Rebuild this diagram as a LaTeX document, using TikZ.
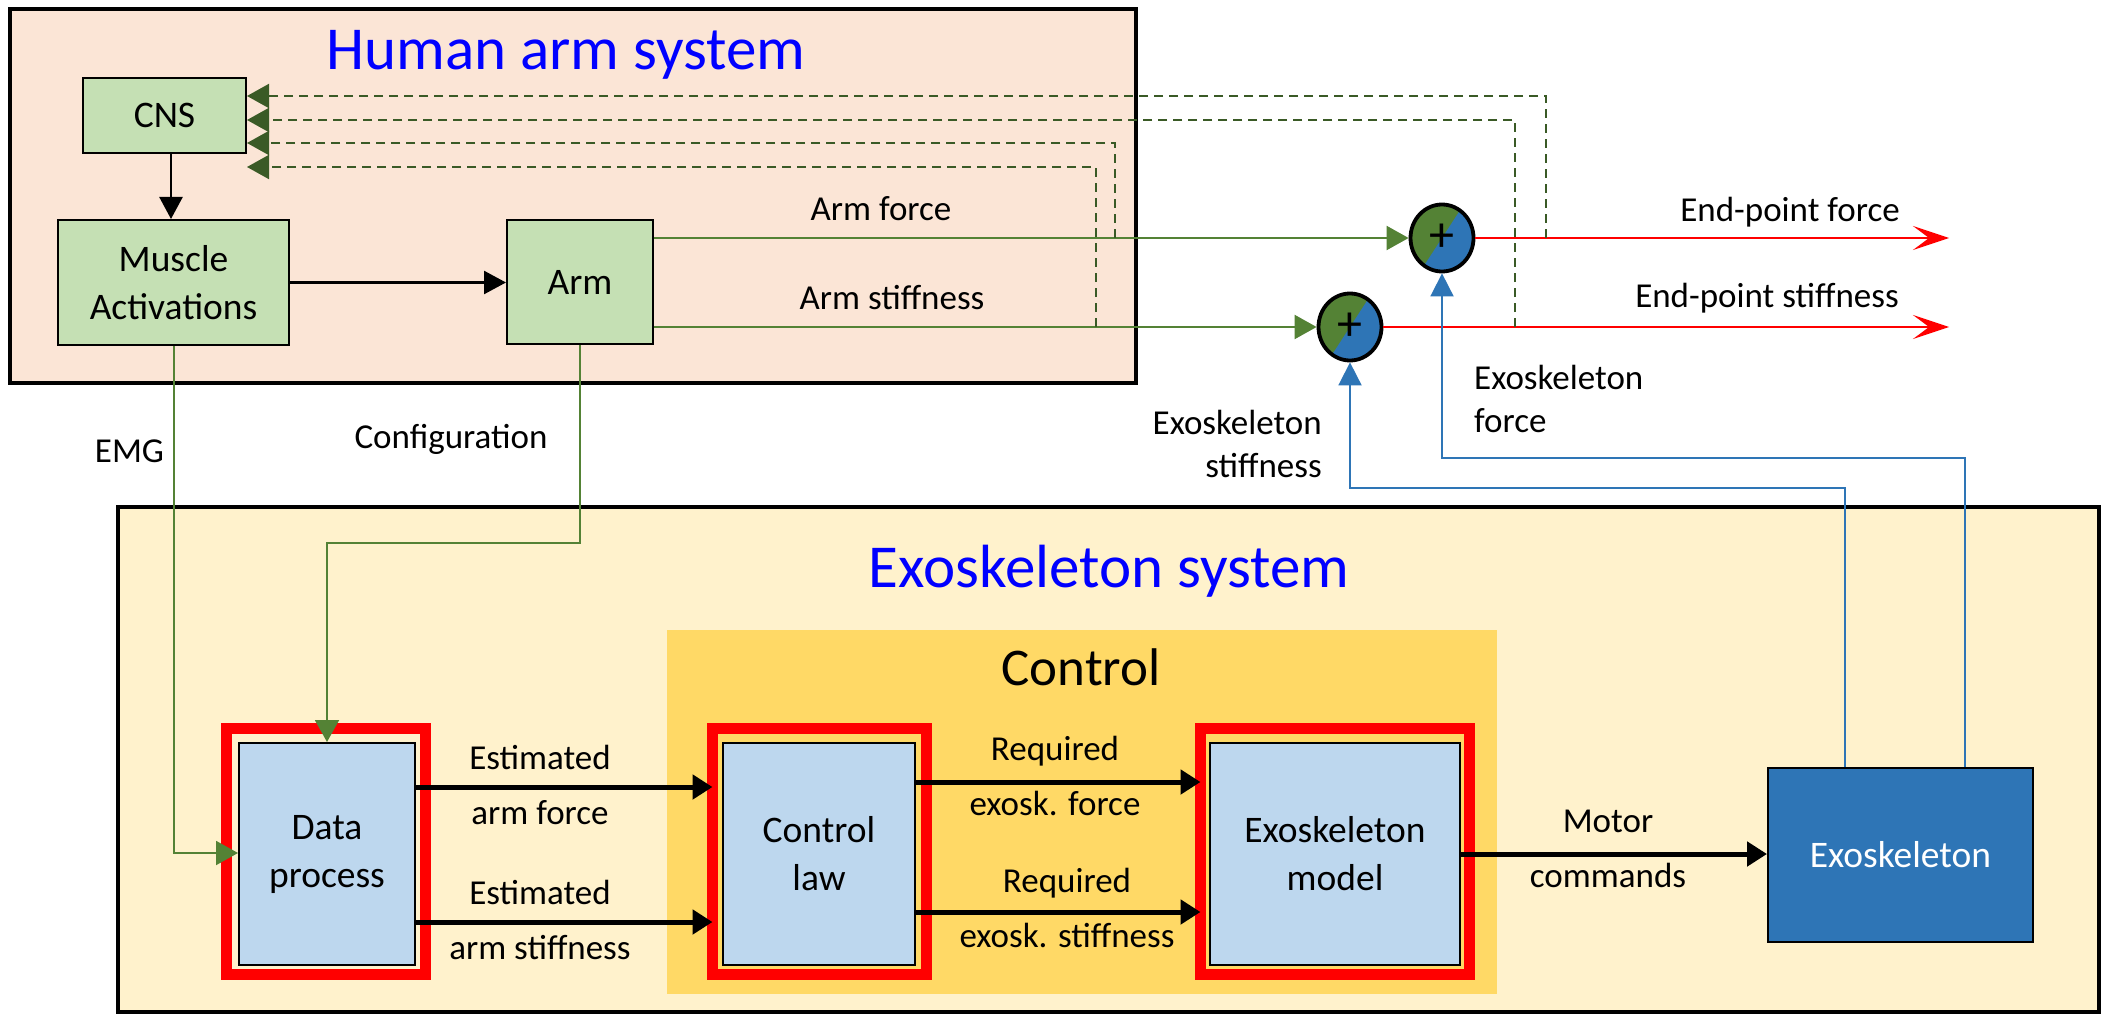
\documentclass[tikz,border=0pt]{standalone}
\usepackage{fontspec}
\setmainfont{Carlito}
\usetikzlibrary{arrows.meta,calc,shapes.geometric}
\definecolor{peach}{HTML}{FBE5D6}
\definecolor{cream}{HTML}{FFF2CC}
\definecolor{gold}{HTML}{FFD966}
\definecolor{boxgreen}{HTML}{C5E0B4}
\definecolor{boxblue}{HTML}{BDD7EE}
\definecolor{exoblue}{HTML}{2E75B6}
\definecolor{lgreen}{HTML}{548235}
\definecolor{dgreen}{HTML}{3A5A26}
\definecolor{titleblue}{HTML}{0000FF}
\newcommand\bxfont{\fontsize{37.5}{48}\selectfont}
\newcommand\lbfont{\fontsize{35}{55}\selectfont}
\newcommand\lbsfont{\fontsize{35}{43}\selectfont}
\newcommand\ttlfont{\fontsize{61}{70}\selectfont}
\begin{document}
\begin{tikzpicture}[x=1pt,y=-1pt,
  panel/.style={draw=black,line width=3.5pt,inner sep=0pt},
  box/.style={draw=black,line width=2pt,inner sep=0pt,align=center,font=\bxfont},
  gbox/.style={box,fill=boxgreen},
  bbox/.style={box,fill=boxblue,minimum height=222pt},
  rframe/.style={draw=red,line width=11pt,inner sep=0pt,outer sep=0pt,minimum height=246pt},
  sumnode/.style={ellipse,minimum width=63pt,minimum height=67pt,inner sep=0pt,draw=black,line width=3.8pt,
    font=\fontsize{50}{50}\selectfont,
    path picture={
      \fill[lgreen] (path picture bounding box.south west) rectangle (path picture bounding box.north east);
      \fill[exoblue] ($(path picture bounding box.center)+(57:60pt)$) -- ($(path picture bounding box.center)+(237:60pt)$)
        -- ($(path picture bounding box.center)+(237:60pt)+(-33:80pt)$) -- ($(path picture bounding box.center)+(57:60pt)+(-33:80pt)$) -- cycle;
    }},
  lbl/.style={inner sep=0pt,font=\lbfont,align=center},
  ttl/.style={inner sep=0pt,font=\ttlfont,text=titleblue,anchor=base},
  gline/.style={draw=lgreen,line width=2pt,-{Triangle[length=22pt,width=24pt]}},
  fbline/.style={draw=dgreen,line width=2pt,dash pattern=on 9pt off 6pt,-{Triangle[length=22pt,width=24pt]}},
  blk/.style={draw=black,line width=2.5pt,-{Triangle[length=22pt,width=23pt]}},
  thk/.style={draw=black,line width=5pt,-{Triangle[length=20pt,width=24pt]}},
  rline/.style={draw=red,line width=2.5pt,-{Stealth[length=36pt,width=24pt,inset=16pt]}},
  bline/.style={draw=exoblue,line width=1.8pt,-{Triangle[length=23pt,width=23pt]}}
]
\useasboundingbox (0,0) rectangle (2111,1016);
\fill[white] (0,0) rectangle (2111,1016);

% panels
\node[panel,fill=peach,minimum width=1126pt,minimum height=374pt] (human) at (573,196) {};
\node[panel,fill=cream,minimum width=1981pt,minimum height=505pt] (exosys) at (1108.5,759.5) {};
\node[fill=gold,inner sep=0pt,minimum width=830pt,minimum height=364pt] (control) at (1082,812) {};

% titles
\node[ttl] (humantitle) at (566,70) {Human arm system};
\node[ttl] (exotitle) at (1109,587) {Exoskeleton system};
\node[inner sep=0pt,font=\fontsize{53}{60}\selectfont,anchor=base] (ctrltitle) at (1081,685) {Control};

% human arm blocks
\node[gbox,minimum width=163pt,minimum height=75pt] (cns) at (164.5,115.5) {CNS};
\node[gbox,minimum width=231pt,minimum height=125pt] (muscle) at (173.5,282.5) {Muscle\\Activations};
\node[gbox,minimum width=146pt,minimum height=124pt] (arm) at (580,282) {Arm};

% exoskeleton blocks
\node[rframe,minimum width=199pt] (dpf) at (326,851.5) {};
\node[rframe,minimum width=214pt] (clf) at (819.5,851.5) {};
\node[rframe,minimum width=269pt] (emf) at (1335,851.5) {};
\node[bbox,minimum width=176pt] (dp) at (327,854) {Data\\process};
\node[bbox,minimum width=192pt] (cl) at (819,854) {Control\\law};
\node[bbox,minimum width=250pt] (em) at (1335,854) {Exoskeleton\\model};
\node[box,fill=exoblue,text=white,minimum width=265pt,minimum height=174pt] (exo) at (1900.5,855) {Exoskeleton};

% summing junctions
\node[sumnode] (sf) at (1442,238) {+};
\node[sumnode] (ss) at (1350,327) {+};

% coordinates for free ends and taps
\coordinate (efo) at (1949,238);
\coordinate (est) at (1949,327);
\coordinate (tap1) at (1546,238);
\coordinate (tap2) at (1515,327);
\coordinate (tap3) at (1115,238);
\coordinate (tap4) at (1096,327);

% human arm connectors
\draw[blk] (cns.south -| 171,0) -- (muscle.north -| 171,0);
\draw[blk] (muscle.east) -- (muscle.east -| arm.west);
\draw[gline] (arm.east |- sf.west) -- (sf.west);
\draw[gline] (arm.east |- ss.west) -- (ss.west);
\draw[rline] (sf.east) -- (efo);
\draw[rline] (ss.east) -- (est);

% feedback to CNS
\draw[fbline] (tap1) |- (cns.east |- 0,96);
\draw[fbline] (tap2) |- (cns.east |- 0,120);
\draw[fbline] (tap3) |- (cns.east |- 0,143);
\draw[fbline] (tap4) |- (cns.east |- 0,167);

% exoskeleton outputs
\draw[bline] (exo.north -| 1965,0) |- (sf.south |- 0,458) -- (sf.south);
\draw[bline] (exo.north -| 1845,0) |- (ss.south |- 0,488) -- (ss.south);

% signals to data process
\draw[gline] (muscle.south) |- (dp.west |- 0,853);
\draw[gline] (arm.south) |- (dp.north |- 0,543) -- (dp.north);

% thick arrows
\draw[thk] (dp.east |- 0,787) -- (clf.west |- 0,787);
\draw[thk] (dp.east |- 0,922) -- (clf.west |- 0,922);
\draw[thk] (cl.east |- 0,782) -- (emf.west |- 0,782);
\draw[thk] (cl.east |- 0,912) -- (emf.west |- 0,912);
\draw[thk] (em.east) -- (em.east -| exo.west);

% labels
\node[lbl,anchor=base] (lemg) at (129.5,462) {EMG};
\node[lbl,anchor=base] (lconf) at (451,448) {Configuration};
\node[lbl,anchor=base] (larmf) at (881,221) {Arm force};
\node[lbl,anchor=base] (larms) at (892,309) {Arm stiffness};
\node[lbl,anchor=base east] (lepf) at (1900,222) {End-point force};
\node[lbl,anchor=base east] (leps) at (1899,307) {End-point stiffness};
\node[lbl,font=\lbsfont,anchor=west,align=left] (lexf) at (1474,399) {Exoskeleton\\force};
\node[lbl,font=\lbsfont,anchor=east,align=right] (lexs) at (1322,444) {Exoskeleton\\stiffness};
\node[lbl] (lestf) at (540,785) {Estimated\\arm force};
\node[lbl] (lests) at (540,920) {Estimated\\arm stiffness};
\node[lbl] (lreqf) at (1055,776) {Required\\exosk. force};
\node[lbl] (lreqs) at (1067,908) {Required\\exosk. stiffness};
\node[lbl] (lmot) at (1608,849) {Motor\\commands};
\end{tikzpicture}
\end{document}
